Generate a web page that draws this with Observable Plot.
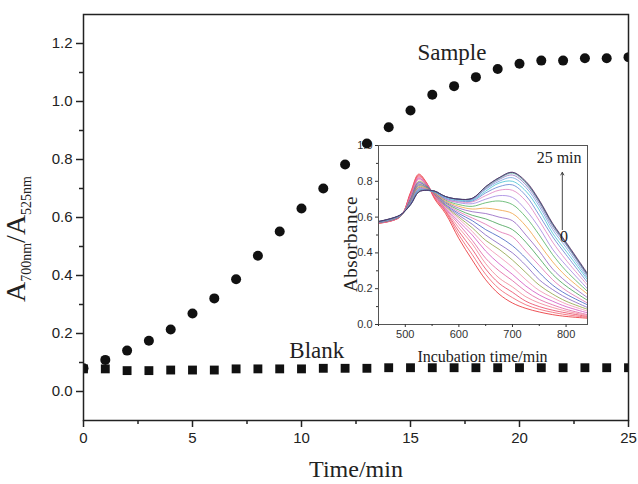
<!DOCTYPE html>
<html><head><meta charset="utf-8">
<script src="https://cdn.jsdelivr.net/npm/d3@7"></script>
<script src="https://cdn.jsdelivr.net/npm/@observablehq/plot@0.6"></script>
<style>
html,body{margin:0;padding:0;background:#fff;}
#wrap{position:relative;width:638px;height:484px;overflow:hidden;background:#fff;}
#wrap svg{position:absolute;}
</style></head><body><div id="wrap"></div>
<script>
// ---- main chart data ----
const times = [0,1,2,3,4,5,6,7,8,9,10,11,12,13,14,15,16,17,18,19,20,21,22,23,24,25];
const sampleRatio = [0.080,0.109,0.141,0.175,0.214,0.269,0.321,0.387,0.468,0.552,0.631,0.700,0.783,0.855,0.911,0.969,1.023,1.053,1.084,1.112,1.130,1.141,1.141,1.149,1.149,1.153];
const blankRatio = [0.078,0.078,0.072,0.072,0.074,0.074,0.074,0.078,0.078,0.078,0.078,0.080,0.080,0.080,0.082,0.082,0.082,0.082,0.082,0.082,0.082,0.082,0.082,0.082,0.082,0.082];
const xMajorTicks = [0,5,10,15,20,25];
const xMinorTicks = [2.5,7.5,12.5,17.5,22.5];
const yMajorTicks = [0,0.2,0.4,0.6,0.8,1.0,1.2];
const yMinorTicks = [0.1,0.3,0.5,0.7,0.9,1.1];
const seriesLabels = [{text:"Sample", t:16.9, v:1.142},{text:"Blank", t:10.7, v:0.114}];

// ---- inset data ----
const wavelengths = [450,490,510,525,540,555,575,600,625,650,675,700,725,750,775,800,840];
const spectra = [
 [.565,.60,.74,.84,.79,.70,.62,.48,.36,.25,.17,.12,.09,.07,.055,.045,.035],
 [.566,.60,.735,.835,.79,.705,.63,.50,.39,.28,.20,.15,.11,.085,.068,.055,.04],
 [.567,.601,.73,.83,.785,.71,.635,.52,.42,.31,.23,.18,.13,.10,.08,.065,.045],
 [.567,.601,.725,.825,.785,.715,.64,.54,.45,.34,.26,.21,.155,.12,.095,.075,.05],
 [.568,.602,.72,.82,.78,.72,.645,.56,.47,.37,.30,.245,.185,.14,.11,.085,.055],
 [.568,.602,.715,.815,.78,.72,.65,.575,.50,.41,.34,.28,.215,.165,.13,.10,.065],
 [.569,.603,.71,.81,.775,.725,.655,.59,.52,.44,.38,.32,.25,.19,.15,.115,.075],
 [.569,.603,.705,.80,.775,.725,.66,.60,.54,.47,.42,.36,.29,.22,.17,.13,.085],
 [.57,.604,.70,.795,.77,.73,.665,.61,.56,.50,.45,.40,.33,.25,.195,.15,.095],
 [.57,.604,.70,.79,.77,.73,.67,.62,.58,.53,.49,.44,.37,.29,.22,.17,.11],
 [.57,.605,.695,.785,.765,.73,.675,.63,.595,.56,.52,.49,.41,.33,.25,.19,.12],
 [.571,.605,.69,.78,.765,.735,.68,.64,.61,.59,.56,.53,.46,.37,.28,.215,.135],
 [.571,.606,.69,.775,.76,.735,.685,.65,.63,.62,.60,.58,.50,.41,.31,.24,.15],
 [.572,.606,.685,.77,.76,.735,.69,.66,.645,.65,.64,.62,.55,.45,.35,.27,.17],
 [.572,.607,.685,.765,.755,.74,.695,.67,.66,.68,.69,.67,.60,.50,.39,.30,.185],
 [.572,.607,.68,.76,.755,.74,.70,.68,.675,.70,.72,.71,.64,.54,.42,.33,.20],
 [.573,.608,.68,.76,.755,.74,.70,.685,.685,.72,.75,.75,.69,.58,.46,.36,.22],
 [.573,.608,.68,.755,.75,.74,.705,.69,.69,.735,.77,.78,.72,.61,.49,.39,.235],
 [.574,.609,.675,.75,.75,.74,.71,.695,.695,.745,.79,.80,.745,.64,.51,.41,.25],
 [.574,.609,.675,.75,.75,.745,.71,.70,.70,.755,.80,.82,.765,.66,.53,.43,.26],
 [.575,.61,.675,.745,.75,.745,.715,.70,.70,.76,.81,.835,.78,.675,.545,.445,.27],
 [.575,.61,.67,.745,.75,.745,.715,.70,.705,.765,.815,.845,.79,.685,.555,.45,.275],
 [.575,.611,.67,.74,.75,.745,.715,.70,.705,.77,.82,.85,.795,.69,.56,.455,.28],
 [.576,.611,.67,.74,.75,.745,.715,.70,.705,.77,.82,.85,.80,.695,.565,.46,.285]
];
const spectrumColors = ["#e8262b","#f05a6a","#e84060","#f08090","#e060a0","#d050c0","#f090b0","#8ca040",
  "#8060c0","#4060c0","#e070b0","#40a050","#9060c0","#f0a040","#50b060","#a080e0",
  "#e080c0","#6080d0","#40c0d0","#70a0e0","#9070c0","#60b0a0","#404080","#503060"];
const insetXMajor = [500,600,700,800];
const insetXMinor = [450,550,650,750];
const insetYMajor = [0,0.2,0.4,0.6,0.8,1.0];
const insetYMinor = [0.1,0.3,0.5,0.7,0.9];
const insetNotes = [{text:"25 min", wl:787, a:0.90},{text:"0", wl:796, a:0.46}];
const insetArrow = [{x1:793, y1:0.53, x2:793, y2:0.85}];

const serif = "'Liberation Serif','Times New Roman',serif";
const sans = "'Liberation Sans',Arial,sans-serif";
const wrap = document.getElementById("wrap");

// ---- inset plot ----
const rows = [];
spectra.forEach((s, i) => s.forEach((a, j) => rows.push({curve: i, wl: wavelengths[j], a, color: spectrumColors[i]})));

const inset = Plot.plot({
  width: 270, height: 230,
  marginLeft: 48, marginRight: 13, marginTop: 7, marginBottom: 44,
  x: {domain: [450, 840]},
  y: {domain: [0, 1.0]},
  color: {type: "identity"},
  style: {background: "transparent", fontFamily: sans, fontSize: "11px", color: "#333"},
  marks: [
    Plot.line(rows, {x: "wl", y: "a", z: "curve", stroke: "color", curve: "catmull-rom", strokeWidth: 0.8, clip: true}),
    Plot.frame({stroke: "#555", strokeWidth: 1}),
    Plot.axisX({ticks: insetXMajor, tickSize: 3, tickPadding: 3, label: null}),
    Plot.axisX({ticks: insetXMinor, tickSize: 2, tickFormat: () => "", label: null}),
    Plot.axisY({ticks: insetYMajor, tickSize: 3, tickPadding: 3, tickFormat: d3.format(".1f"), label: null}),
    Plot.axisY({ticks: insetYMinor, tickSize: 2, tickFormat: () => "", label: null}),
    Plot.arrow(insetArrow, {x1: "x1", y1: "y1", x2: "x2", y2: "y2", stroke: "#333", strokeWidth: 0.9, headLength: 5}),
    Plot.text(insetNotes, {x: "wl", y: "a", text: "text", fontFamily: serif, fontSize: 16, lineAnchor: "bottom", fill: "#222"})
  ]
});
inset.style.left = "330px";
inset.style.top = "138px";
const isvg = d3.select(inset);
isvg.append("text").attr("x", 152.5).attr("y", 224).attr("text-anchor", "middle")
  .style("font-family", serif).style("font-size", "16px").attr("fill", "#222").text("Incubation time/min");
isvg.append("text").attr("transform", "translate(27,106) rotate(-90)").attr("text-anchor", "middle")
  .style("font-family", serif).style("font-size", "19px").style("letter-spacing", "0.5px").attr("fill", "#222").text("Absorbance");
wrap.appendChild(inset);

// ---- main plot ----
const sampleData = times.map((t, i) => ({t, v: sampleRatio[i]}));
const blankData = times.map((t, i) => ({t, v: blankRatio[i]}));

const main = Plot.plot({
  width: 638, height: 484,
  marginLeft: 83, marginRight: 10, marginTop: 14, marginBottom: 64,
  x: {domain: [0, 25]},
  y: {domain: [-0.1, 1.3]},
  style: {background: "transparent", fontFamily: sans, fontSize: "15px", color: "#222"},
  marks: [
    Plot.dot(sampleData, {x: "t", y: "v", r: 5, fill: "#111", stroke: "none", clip: true}),
    Plot.dot(blankData, {x: "t", y: "v", r: 5, symbol: "square", fill: "#111", stroke: "none", clip: true}),
    Plot.frame({stroke: "#222", strokeWidth: 1.5}),
    Plot.axisX({ticks: xMajorTicks, tickSize: 7, tickPadding: 5, strokeWidth: 1.5, label: null}),
    Plot.axisX({ticks: xMinorTicks, tickSize: 4, strokeWidth: 1.5, tickFormat: () => "", label: null}),
    Plot.axisY({ticks: yMajorTicks, tickSize: 7, tickPadding: 4, strokeWidth: 1.5, tickFormat: d3.format(".1f"), label: null}),
    Plot.axisY({ticks: yMinorTicks, tickSize: 4, strokeWidth: 1.5, tickFormat: () => "", label: null}),
    Plot.text(seriesLabels, {x: "t", y: "v", text: "text", fontFamily: serif, fontSize: 23, lineAnchor: "bottom", fill: "#222"})
  ]
});
main.style.left = "0px";
main.style.top = "0px";
const msvg = d3.select(main);
msvg.append("text").attr("x", 356).attr("y", 477).attr("text-anchor", "middle")
  .style("font-family", serif).style("font-size", "24px").attr("fill", "#222").text("Time/min");
const yT = msvg.append("text").attr("transform", "translate(25,239) rotate(-90)").attr("text-anchor", "middle")
  .style("font-family", serif).style("font-size", "28px").attr("fill", "#222");
yT.append("tspan").text("A");
yT.append("tspan").attr("dy", 6).style("font-size", "14px").text("700nm");
yT.append("tspan").attr("dy", -6).text("/A");
yT.append("tspan").attr("dy", 6).style("font-size", "14px").text("525nm");
wrap.appendChild(main);
</script></body></html>
